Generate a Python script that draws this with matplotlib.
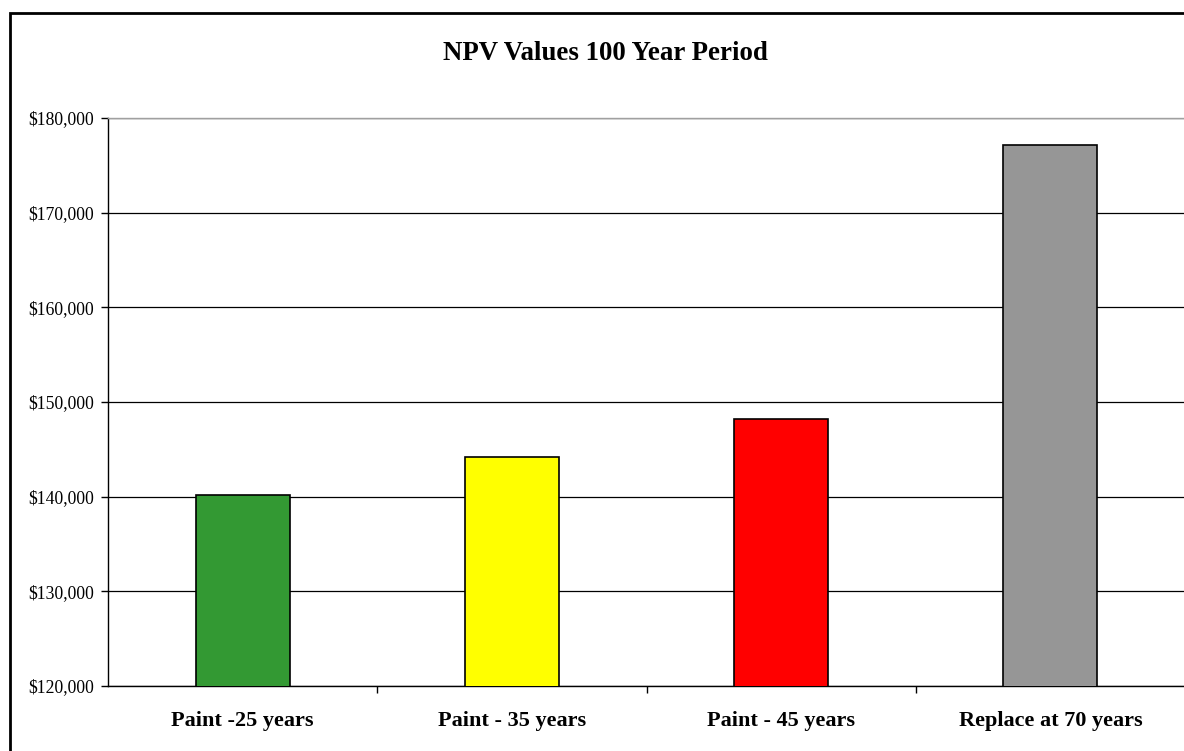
import matplotlib
matplotlib.use("Agg")
import matplotlib.pyplot as plt
from matplotlib.patches import Rectangle
from matplotlib.ticker import FuncFormatter, FixedLocator

categories = ["Paint -25 years", "Paint - 35 years", "Paint - 45 years", "Replace at 70 years"]
values = [140200, 144200, 148200, 177100]
colors = ["#339933", "#FFFF00", "#FF0000", "#969696"]
yticks = [120000, 130000, 140000, 150000, 160000, 170000, 180000]

plt.rcParams['font.family'] = ['Liberation Serif', 'DejaVu Serif']

W, H = 1184, 751
fig = plt.figure(figsize=(W/100, H/100), dpi=100)
fig.patch.set_facecolor("white")

# figure border (cut off at right and bottom)
fig.patches.append(Rectangle((10/W, -0.1), 1.2, (H-13)/H + 0.1, transform=fig.transFigure,
                             fill=False, edgecolor="black", linewidth=2, clip_on=False))

ax = fig.add_axes([108/W, 1-686/H, (1185-108)/W, 568/H])
x = list(range(len(categories)))
ax.bar(x, values, width=0.35, color=colors, edgecolor="black", linewidth=1.2, zorder=3)

ax.set_xlim(-0.5, 3.5)
ax.set_ylim(120000, 180000)
ax.set_yticks(yticks)
ax.yaxis.set_major_formatter(FuncFormatter(lambda v, p: f"${v:,.0f}"))
ax.yaxis.grid(True, color="black", linewidth=0.9, zorder=0)
ax.set_axisbelow(True)

ax.set_xticks(x)
ax.set_xticklabels(categories, fontweight="bold", fontsize=16)
ax.xaxis.set_minor_locator(FixedLocator([0.5, 1.5, 2.5]))
ax.tick_params(axis="x", which="major", length=0, pad=18)
ax.tick_params(axis="x", which="minor", length=5, width=1, direction="out")
ax.tick_params(axis="y", length=5, width=1, direction="out", labelsize=12.7, pad=5)

for s in ["top", "right"]:
    ax.spines[s].set_color("#a0a0a0")
    ax.spines[s].set_linewidth(1)
for s in ["left", "bottom"]:
    ax.spines[s].set_color("black")
    ax.spines[s].set_linewidth(1)

fig.text(605/W, 1-53/H, "NPV Values 100 Year Period", ha="center", va="center",
         fontweight="bold", fontsize=19.4)

fig.savefig("out.png", dpi=100)
